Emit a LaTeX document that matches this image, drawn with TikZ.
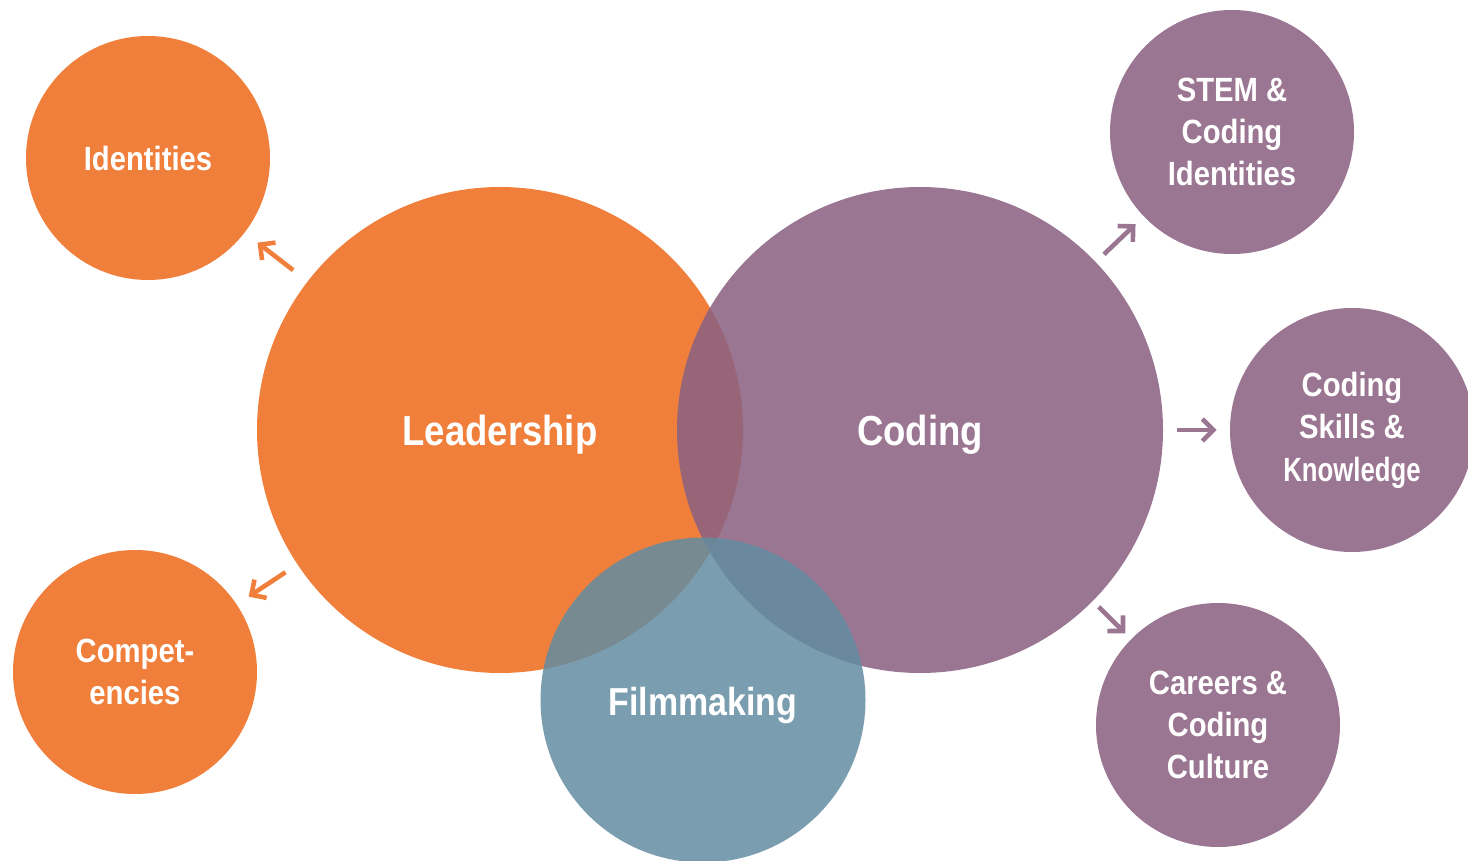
\documentclass[tikz,border=0pt]{standalone}
\usepackage{fontspec}
\newfontfamily\bubblefont[FakeStretch=0.87]{Liberation Sans Bold}
\usetikzlibrary{arrows.meta}

\definecolor{leadorange}{RGB}{240,127,60}
\definecolor{codepurple}{RGB}{140,98,130}
\definecolor{codelight}{RGB}{155,118,146}
\definecolor{filmblue}{RGB}{99,141,161}

\begin{document}
\begin{tikzpicture}[x=0.5pt, y=-0.5pt,
  bubble/.style={circle, inner sep=0pt, align=center, text=white, font=\bubblefont},
  big/.style={bubble, minimum size=243pt},
  small/.style={bubble, minimum size=122pt, font=\bubblefont\fontsize{16.8}{21.2}\selectfont},
  bigtext/.style={text=white, font=\bubblefont\fontsize{21}{26}\selectfont},
  outarrow/.style={line width=2.3pt, -{Straight Barb[length=5.5pt, width=11pt]}}]

  \useasboundingbox (0,0) rectangle (1468,861);

  % Main circles (Coding and Filmmaking laid over, see-through)
  \node[big, fill=leadorange] (lead) at (500,430) {};
  \node[big, fill=codepurple, fill opacity=0.87] (code) at (920,430) {};
  \node[bubble, minimum size=162.5pt, fill=filmblue, fill opacity=0.85] (film) at (703,700) {};

  % Main labels
  \node[bigtext] (leadtext) at (500,435) {Leadership};
  \node[bigtext] (codetext) at (920,435) {Coding};
  \node[bigtext, font=\bubblefont\fontsize{19.5}{24}\selectfont] (filmtext) at (703,705) {Filmmaking};

  % Outcome circles
  \node[small, fill=leadorange] (ident) at (148,158) {Identities};
  \node[small, fill=leadorange] (comp) at (135,672) {Compet-\\encies};
  \node[small, fill=codelight] (stem) at (1232,132) {STEM \&\\Coding\\Identities};
  \node[small, fill=codelight] (skill) at (1352,430) {Coding\\Skills \&\\\scalebox{0.88}[1]{Knowledge}};
  \node[small, fill=codelight] (career) at (1218,725) {Careers \&\\Coding\\Culture};

  % Arrows from main circles to outcomes
  \draw[outarrow, leadorange, shorten <=9pt, shorten >=8pt] (lead) -- (ident);
  \draw[outarrow, leadorange, shorten <=7pt, shorten >=7pt] (lead) -- (comp);
  \draw[outarrow, codelight, shorten <=5.5pt, shorten >=5.5pt] (code) -- (stem);
  \draw[outarrow, codelight, shorten <=7pt, shorten >=6.5pt] (code) -- (skill);
  \draw[outarrow, codelight, shorten <=4pt, shorten >=4pt] (code) -- (career);

\end{tikzpicture}
\end{document}
